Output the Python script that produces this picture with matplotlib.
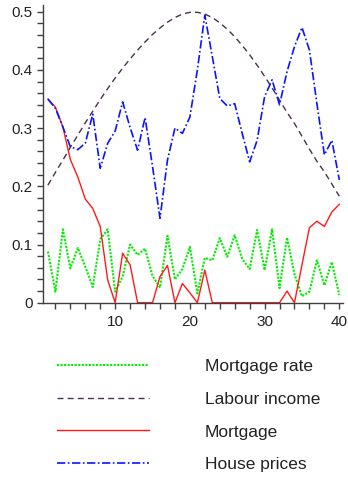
import numpy as np
import matplotlib.pyplot as plt
from matplotlib.ticker import MultipleLocator

plt.rcParams["font.family"] = ["Liberation Sans", "DejaVu Sans"]

# --- data ---
periods = np.arange(1, 41)

mortgage_rate = [0.088, 0.019, 0.126, 0.059, 0.094, 0.062, 0.027, 0.109, 0.126, 0.019,
                 0.045, 0.100, 0.082, 0.093, 0.046, 0.026, 0.115, 0.040, 0.058, 0.096,
                 0.016, 0.077, 0.073, 0.111, 0.079, 0.116, 0.075, 0.058, 0.125, 0.056,
                 0.126, 0.025, 0.112, 0.049, 0.011, 0.019, 0.073, 0.030, 0.070, 0.013]

labour_income = [0.202, 0.224, 0.245, 0.267, 0.288, 0.309, 0.329, 0.349, 0.368, 0.386,
                 0.403, 0.419, 0.434, 0.448, 0.461, 0.472, 0.482, 0.490, 0.496, 0.499,
                 0.499, 0.496, 0.490, 0.481, 0.470, 0.457, 0.442, 0.426, 0.408, 0.389,
                 0.369, 0.348, 0.327, 0.308, 0.286, 0.264, 0.243, 0.225, 0.204, 0.183]

mortgage = [0.350, 0.336, 0.302, 0.246, 0.216, 0.178, 0.162, 0.131, 0.039, 0.0,
            0.085, 0.065, 0.0, 0.0, 0.0, 0.045, 0.064, 0.0, 0.033, 0.017,
            0.0, 0.056, 0.0, 0.0, 0.0, 0.0, 0.0, 0.0, 0.0, 0.0,
            0.0, 0.0, 0.020, 0.0, 0.065, 0.129, 0.140, 0.131, 0.156, 0.169]

house_prices = [0.350, 0.334, 0.302, 0.268, 0.263, 0.274, 0.324, 0.231, 0.274, 0.295,
                0.345, 0.301, 0.262, 0.318, 0.234, 0.145, 0.245, 0.300, 0.291, 0.319,
                0.400, 0.494, 0.423, 0.351, 0.338, 0.342, 0.291, 0.242, 0.279, 0.354,
                0.383, 0.340, 0.397, 0.440, 0.473, 0.434, 0.342, 0.254, 0.279, 0.211]

labels = ["Mortgage rate", "Labour income", "Mortgage", "House prices"]

fig = plt.figure(figsize=(3.48, 4.78), dpi=100)
ax = fig.add_axes([0.1227, 0.3667, 0.862, 0.6228])

l1, = ax.plot(periods, mortgage_rate, color="#00ee00", lw=1.5, ls=(0, (1, 0.7)))
l2, = ax.plot(periods, labour_income, color="#4a3050", lw=1.0, ls=(0, (4.3, 3)))
l3, = ax.plot(periods, mortgage, color="#ff1a1a", lw=1.0)
l4, = ax.plot(periods, house_prices, color="#0a14ff", lw=1.2, ls=(0, (5, 1.5, 1, 1.5)))

ax.set_xlim(0.3, 40.45)
ax.set_ylim(0, 0.5115)

for s in ["top", "right"]:
    ax.spines[s].set_visible(False)
for s in ["left", "bottom"]:
    ax.spines[s].set_color("#404040")
    ax.spines[s].set_linewidth(1.0)

ax.xaxis.set_minor_locator(MultipleLocator(2))
ax.yaxis.set_minor_locator(MultipleLocator(0.02))
ax.set_yticks([0, 0.1, 0.2, 0.3, 0.4, 0.5])
ax.set_yticklabels(["0", "0.1", "0.2", "0.3", "0.4", "0.5"])
ax.set_xticks([10, 20, 30, 40])

ax.tick_params(which="both", direction="out", length=4, width=1.0, color="#404040",
               labelsize=11, labelcolor="#222222")
ax.tick_params(axis="x", pad=5)
ax.tick_params(axis="y", pad=3)

fig.legend([l1, l2, l3, l4], labels, loc="upper left", bbox_to_anchor=(0.164, 0.249),
           frameon=False, fontsize=12.5, handlelength=5.3, handletextpad=3.2,
           labelspacing=1.01, borderpad=0, borderaxespad=0, labelcolor="#222222")

fig.savefig("out.png", dpi=100)
